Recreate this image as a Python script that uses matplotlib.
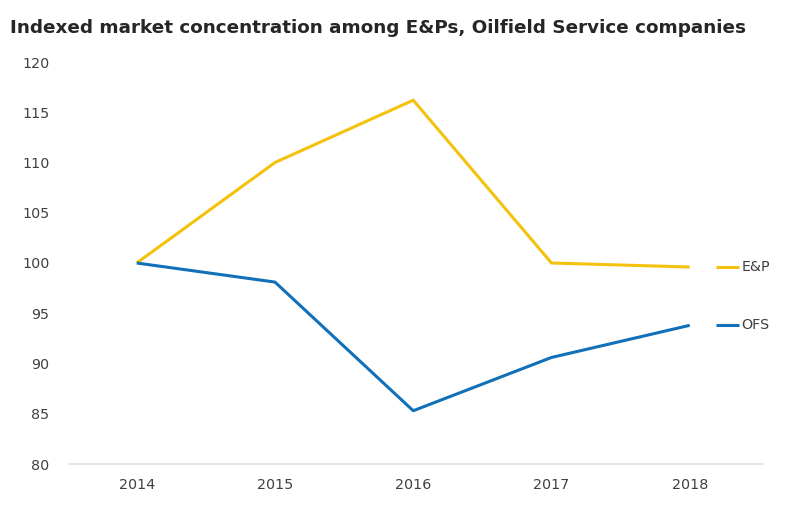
import matplotlib
matplotlib.use("Agg")
import matplotlib.pyplot as plt
from matplotlib.lines import Line2D

years = ["2014", "2015", "2016", "2017", "2018"]
ep_values = [100.0, 110.0, 116.2, 100.0, 99.6]
ofs_values = [100.0, 98.1, 85.3, 90.6, 93.8]
series_names = ["E&P", "OFS"]
title = "Indexed market concentration among E&Ps, Oilfield Service companies"

plt.rcParams['font.family'] = ['DejaVu Sans']
text_color = "#404040"
ep_color = "#F4C20D"
ofs_color = "#1170B8"

fig = plt.figure(figsize=(8, 5.23), dpi=100)
ax = fig.add_axes([69/800, 1-464/523, (763-69)/800, (464-62)/523])

x = list(range(len(years)))
ax.plot(x, ep_values, color=ep_color, lw=2.2, solid_capstyle='butt')
ax.plot(x, ofs_values, color=ofs_color, lw=2.2, solid_capstyle='butt')

ax.set_xlim(-0.49, len(years) - 1 + 0.53)
ax.set_ylim(80, 120)
ax.set_yticks(range(80, 121, 5))
ax.set_xticks(x)
ax.set_xticklabels(years)
for s in ["top", "right", "left"]:
    ax.spines[s].set_visible(False)
ax.spines["bottom"].set_color("#e6e6e6")
ax.spines["bottom"].set_linewidth(1.5)
ax.tick_params(axis='both', length=0, labelsize=10.3, colors=text_color)
ax.tick_params(axis='y', pad=14)
ax.tick_params(axis='x', pad=10)

# end-of-line labels
for name, vals, col in [(series_names[0], ep_values, ep_color), (series_names[1], ofs_values, ofs_color)]:
    xe, ye = x[-1], vals[-1]
    ax.add_line(Line2D([xe + 0.19, xe + 0.355], [ye, ye], color=col, lw=2.2, solid_capstyle='butt'))
    ax.text(xe + 0.375, ye, name, color=text_color, fontsize=10.3, va='center', ha='left')

fig.text(10/800, 1-28/523, title, fontsize=13.2, fontweight='bold', color="#262626", va='center', ha='left')

fig.savefig("out.png", dpi=100)
